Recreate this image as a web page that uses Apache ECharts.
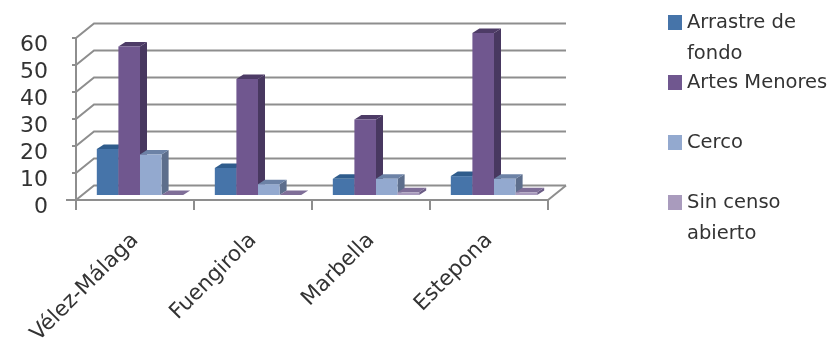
<!DOCTYPE html>
<html><head><meta charset="utf-8">
<style>html,body{margin:0;padding:0;background:#fff}#c{width:832px;height:339px}</style>
<script src="https://cdn.jsdelivr.net/npm/echarts@6/dist/echarts.min.js"></script>
</head><body><div id="c"></div>
<script>
const categories = ['Vélez-Málaga','Fuengirola','Marbella','Estepona'];
const arrastre = [17,10,6,7];
const artes = [55,43,28,60];
const cerco = [15,4,6,6];
const sinCenso = [0,0,1,1];
const yTicks = [0,10,20,30,40,50,60];

const seriesNames = ['Arrastre de fondo','Artes Menores','Cerco','Sin censo abierto'];
const legendText = ['\nArrastre de\nfondo','\nArtes Menores\n ','\nCerco\n ','\nSin censo\nabierto'];
const fronts = ['#4674a9','#70578f','#93a9cf','#a99bbd'];
const tops = ['#2f5c8c','#4d3b66','#6c82a6','#7f6e98'];
const sides = ['#2f4f78','#483860','#5d6e8c','#6b5c85'];
const valueSets = [arrastre,artes,cerco,sinCenso];

const DX = 18, DY = 14.5;       // wall depth
const BDX = 5, BDY = 5;         // bar front-plane inset
const SDX = 7, SDY = 4.5;       // bar depth
const GREY = '#8e8e8e';

function wall(params, api){
  const cs = params.coordSys;
  const y = api.coord([0, api.value(0)])[1];
  const v = api.value(0);
  const L = cs.x, R = cs.x + cs.width;
  const kids = [{type:'polyline',shape:{points:[[L,y],[L+DX,y-DY],[R+DX,y-DY]]},
    style:{fill:null,stroke:GREY,lineWidth:2}}];
  if(v===0){
    kids.push({type:'polyline',shape:{points:[[R,y],[R+DX,y-DY]]},style:{fill:null,stroke:GREY,lineWidth:2}});
    kids.push({type:'line',shape:{x1:L-10,y1:y,x2:L,y2:y},style:{stroke:GREY,lineWidth:2}});
  }
  return {type:'group',children:kids};
}
function bar3d(idx){
  return function(params, api){
    const cat = api.value(0), v = api.value(1);
    const catW = api.size([1,0])[0];
    const w = catW*0.183;
    const cx = api.coord([cat,0])[0];
    const x0 = cx + BDX + (idx-2)*w, x1 = x0 + w;
    const yb = api.coord([cat,0])[1] - BDY;
    const yt = api.coord([cat,v])[1] - BDY;
    const kids = [];
    kids.push({type:'polygon',shape:{points:[[x1,yb],[x1+SDX,yb-SDY],[x1+SDX,yt-SDY],[x1,yt]]},style:{fill:sides[idx]}});
    kids.push({type:'polygon',shape:{points:[[x0,yt],[x0+SDX,yt-SDY],[x1+SDX,yt-SDY],[x1,yt]]},style:{fill:tops[idx]}});
    kids.push({type:'rect',shape:{x:x0,y:yt,width:w,height:yb-yt},style:{fill:fronts[idx]}});
    return {type:'group',children:kids};
  };
}
const series = [{type:'custom',name:'wall',silent:true,z:1,renderItem:wall,data:yTicks.map(v=>[v]),
  encode:{y:0},clip:false}];
valueSets.forEach((vals,i)=>{
  series.push({type:'custom',name:seriesNames[i],z:2+i,clip:false,renderItem:bar3d(i),
    itemStyle:{color:fronts[i]},encode:{x:0,y:1},
    data:vals.map((v,c)=>[c,v])});
});
const chart = echarts.init(document.getElementById('c'),null,{renderer:'canvas'});
chart.setOption({
  animation:false,
  backgroundColor:'#fff',
  grid:{left:76,right:284,top:38,bottom:139,containLabel:false,outerBoundsMode:'none'},
  xAxis:{type:'category',data:categories,
    axisLine:{lineStyle:{color:GREY,width:2}},
    axisTick:{show:true,length:10,lineStyle:{color:GREY,width:2},alignWithLabel:false},
    axisLabel:{rotate:45,interval:0,margin:37,fontFamily:'DejaVu Sans',fontSize:21.5,color:'#333',hideOverlap:false},
    splitLine:{show:false}},
  yAxis:{type:'value',min:0,max:60,interval:10,
    axisLine:{show:true,lineStyle:{color:GREY,width:2}},
    axisTick:{show:true,length:4,lineStyle:{color:GREY,width:2}},
    axisLabel:{margin:28,fontFamily:'DejaVu Sans',fontSize:22,color:'#333',verticalAlign:'top',lineHeight:14},
    splitLine:{show:false}},
  legend:{orient:'vertical',left:663,top:-29,itemWidth:14,itemHeight:15,itemGap:-33,
    icon:'rect',data:seriesNames,
    formatter:n=>legendText[seriesNames.indexOf(n)],
    textStyle:{fontFamily:'DejaVu Sans',fontSize:19.5,lineHeight:31,color:'#333'}},
  series:series
});
</script></body></html>
